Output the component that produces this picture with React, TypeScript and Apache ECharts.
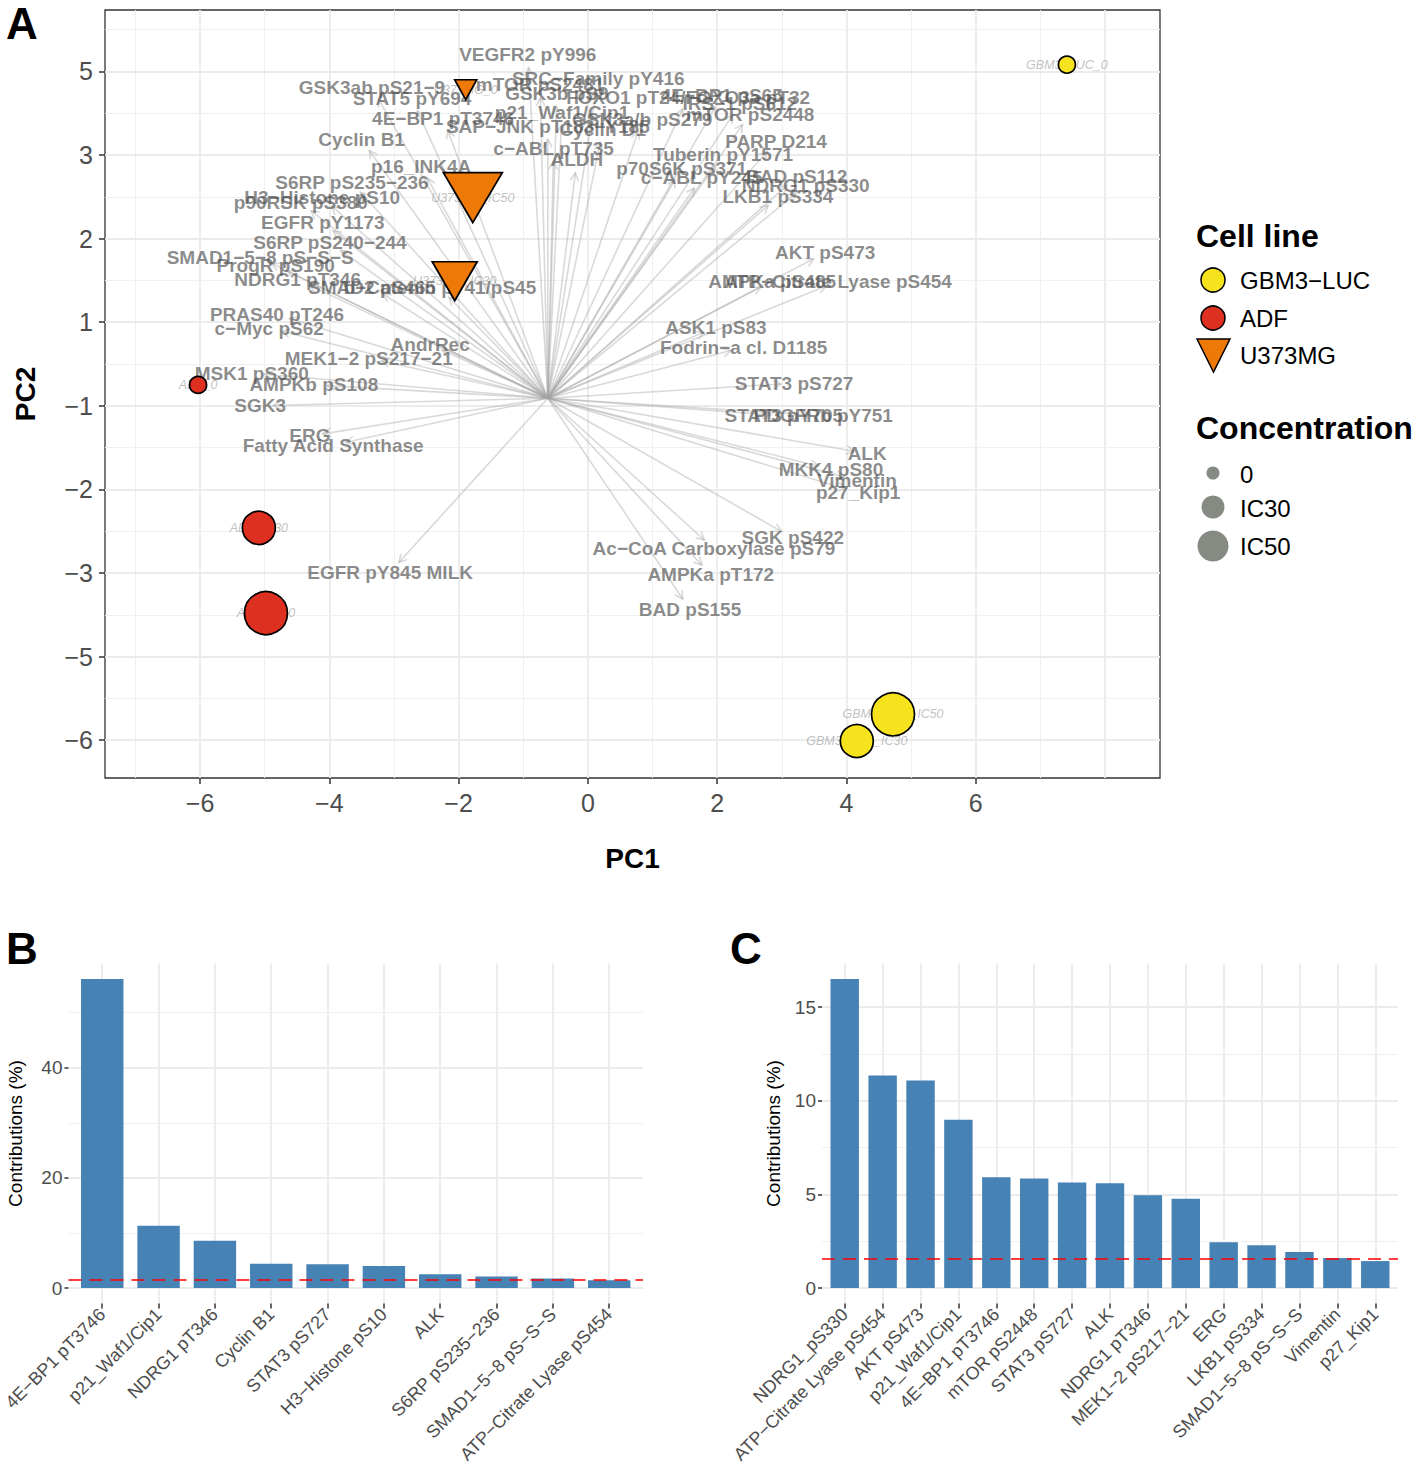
import React, { useEffect, useRef } from "react";
import * as echarts from "echarts";

// ---------------- Panel A: PCA biplot ----------------
const sampleNames = ["GBM3−LUC_0", "GBM3−LUC_IC30", "GBM3−LUC_IC50", "ADF_0", "ADF_IC30", "ADF_IC50", "U373MG_0", "U373MG_IC30", "U373MG_IC50"];
const sampleCellLine = ["GBM3-LUC", "GBM3-LUC", "GBM3-LUC", "ADF", "ADF", "ADF", "U373MG", "U373MG", "U373MG"];
const sampleConcentration = ["0", "IC30", "IC50", "0", "IC30", "IC50", "0", "IC30", "IC50"];
const samplePC1 = [7.41, 4.16, 4.72, -6.03, -5.09, -4.98, -1.89, -2.06, -1.78];
const samplePC2 = [4.08, -4.01, -3.69, 0.25, -1.46, -2.48, 3.78, 1.49, 2.49];

const variableNames = [
  "VEGFR2 pY996", "SRC−Family pY416", "mTOR pS2481", "GSK3ab pS21−9", "STAT5 pY694", "GSK3b pS9",
  "FOXO1 pT24/FOXO3a pT32", "4E−BP1 pS65", "IRS−1 pS612", "mTOR pS2448", "4E−BP1 pT3746", "p21_Waf1/Cip1",
  "GSK3a/b pS279", "SAP−JNK pT183−Y185", "Cyclin D1", "c−ABL pT735", "ALDH", "Cyclin B1", "PARP D214",
  "Tuberin pY1571", "p70S6K pS371", "c−ABL pY245", "BAD pS112", "NDRG1 pS330", "LKB1 pS334", "p16_INK4A",
  "S6RP pS235−236", "H3−Histone pS10", "p90RSK pS380", "EGFR pY1173", "S6RP pS240−244", "SMAD1−5−8 pS−S−S",
  "ProgR pS190", "NDRG1 pT346", "SMAD2 pS465", "b−Catenin pT41/pS45", "PRAS40 pT246", "c−Myc pS62", "AndrRec",
  "MEK1−2 pS217−21", "MSK1 pS360", "AMPKb pS108", "SGK3", "ERG", "Fatty Acid Synthase", "EGFR pY845 MILK",
  "AKT pS473", "ATP−Citrate Lyase pS454", "AMPKa pS485", "ASK1 pS83", "Fodrin−a cl. D1185", "STAT3 pS727",
  "STAT3 pY705", "PDGFRb pY751", "ALK", "MKK4 pS80", "Vimentin", "p27_Kip1", "SGK pS422",
  "Ac−CoA Carboxylase pS79", "AMPKa pT172", "BAD pS155",
];
const variablePC1 = [
  -0.93, 0.16, -0.74, -3.34, -2.72, -0.48,
  1.55, 2.07, 2.35, 2.51, -2.24, -0.40,
  0.84, -0.62, 0.23, -0.53, -0.17, -3.50, 2.91,
  2.09, 1.45, 1.76, 3.23, 3.37, 2.94, -2.58,
  -3.65, -4.11, -4.44, -4.10, -3.99, -5.07,
  -4.83, -4.49, -3.34, -2.29, -4.81, -4.93, -2.44,
  -3.39, -5.20, -4.24, -5.07, -4.30, -3.94, -3.06,
  3.67, 3.87, 2.85, 1.98, 2.41, 3.19,
  3.03, 3.64, 4.32, 3.76, 4.16, 4.18, 3.17,
  1.95, 1.90, 1.58,
];
const variablePC2 = [
  4.20, 3.92, 3.84, 3.81, 3.67, 3.73,
  3.69, 3.71, 3.61, 3.49, 3.44, 3.51,
  3.43, 3.34, 3.30, 3.08, 2.94, 3.18, 3.16,
  3.00, 2.84, 2.73, 2.74, 2.64, 2.50, 2.86,
  2.67, 2.49, 2.43, 2.19, 1.95, 1.77,
  1.68, 1.51, 1.42, 1.41, 1.09, 0.93, 0.73,
  0.57, 0.39, 0.25, 0.00, -0.36, -0.47, -1.99,
  1.83, 1.49, 1.49, 0.94, 0.70, 0.27,
  -0.12, -0.12, -0.57, -0.76, -0.89, -1.04, -1.58,
  -1.71, -2.02, -2.44,
];
const arrowOrigin = [-0.62, 0.09];

const pc1Range = [-7.47, 8.85];
const pc2Range = [-4.452, 4.734];
const pc1TickValues = [-6, -4, -2, 0, 2, 4, 6];
const pc2TickValues = [4, 3, 2, 1, 0, -1, -2, -3, -4];
const pc2TickLabels = ["5", "3", "2", "1", "−1", "−2", "−3", "−5", "−6"];

// ---------------- Panel B / C: contributions ----------------
const contribPC1Names = ["4E−BP1 pT3746", "p21_Waf1/Cip1", "NDRG1 pT346", "Cyclin B1", "STAT3 pS727", "H3−Histone pS10", "ALK", "S6RP pS235−236", "SMAD1−5−8 pS−S−S", "ATP−Citrate Lyase pS454"];
const contribPC1Values = [56.1, 11.3, 8.6, 4.4, 4.3, 4.0, 2.5, 2.1, 1.75, 1.4];
const contribPC1Ticks = [0, 20, 40];

const contribPC2Names = ["NDRG1_pS330", "ATP−Citrate Lyase pS454", "AKT pS473", "p21_Waf1/Cip1", "4E−BP1 pT3746", "mTOR pS2448", "STAT3 pS727", "ALK", "NDRG1 pT346", "MEK1−2 pS217−21", "ERG", "LKB1 pS334", "SMAD1−5−8 pS−S−S", "Vimentin", "p27_Kip1"];
const contribPC2Values = [16.5, 11.35, 11.08, 8.99, 5.91, 5.85, 5.64, 5.6, 4.95, 4.77, 2.44, 2.28, 1.92, 1.6, 1.44];
const contribPC2Ticks = [0, 5, 10, 15];

const expectedContribution = 100 / 63;

// ---------------- styles ----------------
const FONT = '"Liberation Sans", Arial, Helvetica, sans-serif';
const cellColors: Record<string, string> = { "GBM3-LUC": "#F6E21D", ADF: "#DD3020", U373MG: "#EE7906" };
const circleSize: Record<string, number> = { "0": 17, IC30: 33, IC50: 43 };
const triangleSize: Record<string, number[]> = { "0": [22, 20], IC30: [45, 39], IC50: [59, 50] };
const legendGrey = "#858a83";

const fmtNum = (v: number) => (v < 0 ? "−" + Math.abs(v) : String(v));

function gridLineItems(axis: "xAxis" | "yAxis", majors: number[], minors: number[]) {
  const items: any[] = [];
  minors.forEach((v) => items.push({ [axis]: v, lineStyle: { color: "#F0F0F0", width: 1, type: "solid" } }));
  majors.forEach((v) => items.push({ [axis]: v, lineStyle: { color: "#EBEBEB", width: 1.8, type: "solid" } }));
  return items;
}

function gridSeries(xIdx: number, yIdx: number, items: any[], anchor: number[]) {
  return {
    type: "line",
    xAxisIndex: xIdx,
    yAxisIndex: yIdx,
    data: [anchor],
    symbol: "none",
    lineStyle: { opacity: 0 },
    silent: true,
    z: 0,
    markLine: { silent: true, z: 0, symbol: ["none", "none"], label: { show: false }, animation: false, data: items },
  };
}

function buildOption() {
  // Panel A grid lines
  const aX: number[] = [];
  const aXm: number[] = [];
  for (let v = -7; v <= 8; v++) (v % 2 === 0 ? aX : aXm).push(v);
  const aY: number[] = [];
  const aYm: number[] = [];
  for (let v = -8; v <= 9; v++) {
    const val = v / 2;
    if (val < pc2Range[0] || val > pc2Range[1]) continue;
    (v % 2 === 0 ? aY : aYm).push(val);
  }
  const aGrid = [...gridLineItems("xAxis", aX, aXm), ...gridLineItems("yAxis", aY, aYm)];

  const bMax = Math.max(...contribPC1Values);
  const cMax = Math.max(...contribPC2Values);
  const bIdx = contribPC1Names.map((_, i) => i);
  const cIdx = contribPC2Names.map((_, i) => i);
  const bMinor = contribPC1Ticks.map((t) => t + 10).filter((t) => t < bMax * 1.05);
  const cMinor = contribPC2Ticks.map((t) => t + 2.5).filter((t) => t < cMax * 1.05);

  const bGrid = [...gridLineItems("xAxis", bIdx, []), ...gridLineItems("yAxis", contribPC1Ticks, bMinor)];
  const cGrid = [...gridLineItems("xAxis", cIdx, []), ...gridLineItems("yAxis", contribPC2Ticks, cMinor)];

  const tickStyle = { color: "#333", width: 1.5 };

  const barXAxis = (gridIndex: number, names: string[]) => ({
    type: "value",
    gridIndex,
    min: -0.6,
    max: names.length - 1 + 0.6,
    axisLine: { show: false, onZero: false },
    splitLine: { show: false },
    axisTick: { show: true, customValues: names.map((_, i) => i), length: 5, lineStyle: tickStyle },
    axisLabel: {
      customValues: names.map((_, i) => i),
      formatter: (v: number) => names[Math.round(v)],
      rotate: 45,
      fontSize: 18,
      color: "#4d4d4d",
      fontFamily: FONT,
      margin: 8,
    },
  });
  const barYAxis = (gridIndex: number, maxV: number, ticks: number[], gap: number) => ({
    type: "value",
    gridIndex,
    min: -0.05 * maxV,
    max: 1.05 * maxV,
    axisLine: { show: false, onZero: false },
    splitLine: { show: false },
    axisTick: { show: true, customValues: ticks, length: 4, lineStyle: tickStyle },
    axisLabel: { customValues: ticks, fontSize: 19, color: "#4d4d4d", fontFamily: FONT, margin: 6 },
    name: "Contributions (%)",
    nameLocation: "middle",
    nameGap: gap,
    nameTextStyle: { fontSize: 19, color: "#000", fontFamily: FONT },
  });

  const barWidthFor = (gridW: number, n: number) => (0.75 * gridW) / (n - 1 + 1.2);

  const arrowStroke = "rgba(165,165,165,0.42)";

  const legendItems: any[] = [];
  const addText = (x: number, y: number, text: string, size: number, bold = false) =>
    legendItems.push({
      type: "text",
      x,
      y,
      style: {
        text,
        fontSize: size,
        fontWeight: bold ? "bold" : "normal",
        fontFamily: FONT,
        fill: "#000",
        align: "left",
        verticalAlign: "middle",
        textAlign: "left",
        textVerticalAlign: "middle",
      },
    });
  addText(1196, 236, "Cell line", 32, true);
  legendItems.push({ type: "circle", shape: { cx: 1213, cy: 280, r: 12 }, style: { fill: cellColors["GBM3-LUC"], stroke: "#000", lineWidth: 1.5 } });
  addText(1240, 280, "GBM3−LUC", 24);
  legendItems.push({ type: "circle", shape: { cx: 1213, cy: 318, r: 12 }, style: { fill: cellColors.ADF, stroke: "#000", lineWidth: 1.5 } });
  addText(1240, 318, "ADF", 24);
  legendItems.push({ type: "polygon", shape: { points: [[1197, 339], [1230, 339], [1213.5, 372]] }, style: { fill: cellColors.U373MG, stroke: "#000", lineWidth: 1.5 } });
  addText(1240, 355, "U373MG", 24);
  addText(1196, 428, "Concentration", 32, true);
  legendItems.push({ type: "circle", shape: { cx: 1213, cy: 473, r: 6.5 }, style: { fill: legendGrey } });
  addText(1240, 474, "0", 24);
  legendItems.push({ type: "circle", shape: { cx: 1213, cy: 507, r: 11.5 }, style: { fill: legendGrey } });
  addText(1240, 508, "IC30", 24);
  legendItems.push({ type: "circle", shape: { cx: 1213, cy: 546, r: 15.5 }, style: { fill: legendGrey } });
  addText(1240, 546, "IC50", 24);
  addText(6, 23, "A", 44, true);
  addText(6, 948, "B", 44, true);
  addText(730, 948, "C", 44, true);

  return {
    animation: false,
    backgroundColor: "#fff",
    textStyle: { fontFamily: FONT },
    grid: [
      { left: 105, top: 10, width: 1055, height: 768, show: true, borderColor: "#333", borderWidth: 1.3, backgroundColor: "#fff", containLabel: false },
      { left: 66, top: 963.5, width: 577, height: 340, containLabel: false },
      { left: 822, top: 963.5, width: 576, height: 340, containLabel: false },
    ],
    xAxis: [
      {
        type: "value",
        gridIndex: 0,
        min: pc1Range[0],
        max: pc1Range[1],
        axisLine: { show: false, onZero: false },
        splitLine: { show: false },
        axisTick: { show: true, customValues: pc1TickValues, length: 6, lineStyle: tickStyle },
        axisLabel: { customValues: pc1TickValues, formatter: fmtNum, fontSize: 25, color: "#4d4d4d", fontFamily: FONT, margin: 12 },
        name: "PC1",
        nameLocation: "middle",
        nameGap: 66,
        nameTextStyle: { fontSize: 28, fontWeight: "bold", color: "#000", fontFamily: FONT },
      },
      barXAxis(1, contribPC1Names),
      barXAxis(2, contribPC2Names),
    ],
    yAxis: [
      {
        type: "value",
        gridIndex: 0,
        min: pc2Range[0],
        max: pc2Range[1],
        axisLine: { show: false, onZero: false },
        splitLine: { show: false },
        axisTick: { show: true, customValues: pc2TickValues, length: 6, lineStyle: tickStyle },
        axisLabel: {
          customValues: pc2TickValues,
          formatter: (v: number) => {
            const i = pc2TickValues.findIndex((t) => Math.abs(t - v) < 1e-6);
            return i >= 0 ? pc2TickLabels[i] : "";
          },
          fontSize: 25,
          color: "#4d4d4d",
          fontFamily: FONT,
          margin: 12,
        },
        name: "PC2",
        nameLocation: "middle",
        nameGap: 66,
        nameTextStyle: { fontSize: 28, fontWeight: "bold", color: "#000", fontFamily: FONT },
      },
      barYAxis(1, bMax, contribPC1Ticks, 43),
      barYAxis(2, cMax, contribPC2Ticks, 39),
    ],
    graphic: legendItems,
    series: [
      gridSeries(0, 0, aGrid, arrowOrigin),
      {
        type: "custom",
        xAxisIndex: 0,
        yAxisIndex: 0,
        z: 2,
        silent: true,
        clip: false,
        data: variablePC1.map((x, i) => [x, variablePC2[i]]),
        renderItem: (params: any, api: any) => {
          const o = api.coord(arrowOrigin);
          const p = api.coord([api.value(0), api.value(1)]);
          const dx = p[0] - o[0];
          const dy = p[1] - o[1];
          const len = Math.hypot(dx, dy) || 1;
          const ux = dx / len;
          const uy = dy / len;
          const back = Math.min(13, len * 0.2);
          const tx = p[0] - ux * back;
          const ty = p[1] - uy * back;
          const hl = 9;
          const a = (28 * Math.PI) / 180;
          const h1 = [tx - hl * (ux * Math.cos(a) - uy * Math.sin(a)), ty - hl * (uy * Math.cos(a) + ux * Math.sin(a))];
          const h2 = [tx - hl * (ux * Math.cos(a) + uy * Math.sin(a)), ty - hl * (uy * Math.cos(a) - ux * Math.sin(a))];
          return {
            type: "group",
            children: [
              { type: "line", shape: { x1: o[0], y1: o[1], x2: tx, y2: ty }, style: { stroke: arrowStroke, lineWidth: 1.6 } },
              { type: "polyline", shape: { points: [h1, [tx, ty], h2] }, style: { stroke: arrowStroke, lineWidth: 1.6, fill: null } },
            ],
          };
        },
      },
      {
        type: "custom",
        xAxisIndex: 0,
        yAxisIndex: 0,
        z: 3,
        silent: true,
        clip: false,
        data: variablePC1.map((x, i) => [x, variablePC2[i]]),
        renderItem: (params: any, api: any) => {
          const p = api.coord([api.value(0), api.value(1)]);
          return {
            type: "text",
            x: p[0],
            y: p[1],
            style: {
              text: variableNames[params.dataIndex],
              fill: "rgba(80,80,80,0.66)",
              fontSize: 19,
              fontWeight: "bold",
              fontFamily: FONT,
              align: "center",
              verticalAlign: "middle",
              textAlign: "center",
              textVerticalAlign: "middle",
            },
          };
        },
      },
      {
        type: "custom",
        xAxisIndex: 0,
        yAxisIndex: 0,
        z: 4,
        silent: true,
        clip: false,
        data: samplePC1.map((x, i) => [x, samplePC2[i]]),
        renderItem: (params: any, api: any) => {
          const p = api.coord([api.value(0), api.value(1)]);
          return {
            type: "text",
            x: p[0],
            y: p[1],
            style: {
              text: sampleNames[params.dataIndex],
              fill: "rgba(140,140,140,0.55)",
              fontSize: 12.5,
              fontStyle: "italic",
              fontFamily: FONT,
              align: "center",
              verticalAlign: "middle",
              textAlign: "center",
              textVerticalAlign: "middle",
            },
          };
        },
      },
      {
        type: "scatter",
        xAxisIndex: 0,
        yAxisIndex: 0,
        z: 5,
        silent: true,
        data: samplePC1.map((x, i) => {
          const tri = sampleCellLine[i] === "U373MG";
          const conc = sampleConcentration[i];
          return {
            value: [x, samplePC2[i]],
            symbol: tri ? "triangle" : "circle",
            symbolSize: tri ? triangleSize[conc] : circleSize[conc],
            symbolRotate: tri ? 180 : 0,
            itemStyle: { color: cellColors[sampleCellLine[i]], borderColor: "#000", borderWidth: 1.7, opacity: 1 },
          };
        }),
      },
      gridSeries(1, 1, bGrid, [0, 0]),
      {
        type: "bar",
        xAxisIndex: 1,
        yAxisIndex: 1,
        z: 2,
        silent: true,
        barWidth: barWidthFor(577, contribPC1Names.length),
        itemStyle: { color: "#4682B4" },
        data: contribPC1Values.map((v, i) => [i, v]),
        markLine: {
          silent: true,
          z: 5,
          symbol: ["none", "none"],
          label: { show: false },
          lineStyle: { color: "#FF0000", width: 1.6, type: [13, 8] },
          data: [{ yAxis: expectedContribution }],
        },
      },
      gridSeries(2, 2, cGrid, [0, 0]),
      {
        type: "bar",
        xAxisIndex: 2,
        yAxisIndex: 2,
        z: 2,
        silent: true,
        barWidth: barWidthFor(576, contribPC2Names.length),
        itemStyle: { color: "#4682B4" },
        data: contribPC2Values.map((v, i) => [i, v]),
        markLine: {
          silent: true,
          z: 5,
          symbol: ["none", "none"],
          label: { show: false },
          lineStyle: { color: "#FF0000", width: 1.6, type: [13, 8] },
          data: [{ yAxis: expectedContribution }],
        },
      },
    ],
  };
}

export default function App() {
  const ref = useRef<HTMLDivElement>(null);
  useEffect(() => {
    document.body.style.margin = "0";
    const chart = echarts.init(ref.current as HTMLDivElement, null, { renderer: "svg" });
    chart.setOption(buildOption() as any);
    return () => chart.dispose();
  }, []);
  return <div ref={ref} style={{ width: 1418, height: 1479, position: "absolute", left: 0, top: 0 }} />;
}
